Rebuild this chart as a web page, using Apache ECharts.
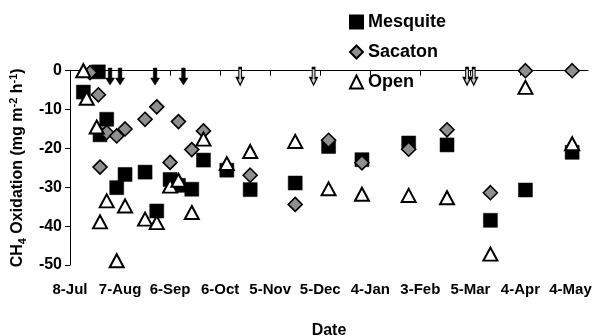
<!DOCTYPE html>
<html>
<head>
<meta charset="utf-8">
<script src="https://cdn.jsdelivr.net/npm/echarts@6/dist/echarts.min.js"></script>
<style>
  html, body { margin: 0; padding: 0; background: #fff; }
  #chart { width: 594px; height: 336px; }
</style>
</head>
<body>
<div id="chart"></div>
<script>
// ---- data ----
var startDate = '2002-07-08';
var xTickLabels = ['8-Jul', '7-Aug', '6-Sep', '6-Oct', '5-Nov', '5-Dec', '4-Jan', '3-Feb', '5-Mar', '4-Apr', '4-May'];
var yTickMin = -50, yTickMax = 0, yTickStep = 10;

var mesquiteDates = ['2002-07-16','2002-07-25','2002-07-26','2002-07-30','2002-08-05','2002-08-10','2002-08-22','2002-08-29','2002-09-06','2002-09-11','2002-09-19','2002-09-26','2002-10-10','2002-10-24','2002-11-20','2002-12-10','2002-12-30','2003-01-27','2003-02-19','2003-03-17','2003-04-07','2003-05-05'];
var mesquiteValues = [-5.5, -0.3, -16.5, -12.5, -30.1, -26.7, -26.1, -36.1, -28.0, -29.5, -30.5, -23.0, -25.6, -30.6, -28.9, -19.5, -22.9, -18.6, -19.1, -38.5, -30.7, -21.0];

var sacatonDates = ['2002-07-20','2002-07-25','2002-07-26','2002-07-30','2002-08-05','2002-08-10','2002-08-22','2002-08-29','2002-09-06','2002-09-11','2002-09-19','2002-09-26','2002-10-24','2002-11-20','2002-12-10','2002-12-30','2003-01-27','2003-02-19','2003-03-17','2003-04-07','2003-05-05'];
var sacatonValues = [-0.5, -6.2, -24.8, -15.9, -16.8, -15.0, -12.5, -9.3, -23.6, -13.1, -20.3, -15.5, -26.9, -34.4, -17.9, -23.7, -20.2, -15.2, -31.4, 0, 0];

var openDates = ['2002-07-16','2002-07-18','2002-07-24','2002-07-26','2002-07-30','2002-08-05','2002-08-10','2002-08-22','2002-08-29','2002-09-06','2002-09-11','2002-09-19','2002-09-26','2002-10-10','2002-10-24','2002-11-20','2002-12-10','2002-12-30','2003-01-27','2003-02-19','2003-03-17','2003-04-07','2003-05-05'];
var openValues = [0, -7.1, -14.5, -38.9, -33.5, -48.9, -34.8, -38.2, -39.1, -29.7, -28.2, -36.5, -17.6, -23.9, -20.8, -18.2, -30.4, -31.8, -32.1, -32.7, -47.2, -4.3, -18.8];

// rain-event arrows drawn along the top of the plot
var heavyRainDates = ['2002-08-01','2002-08-07','2002-08-28','2002-09-14'];
var lightRainDates = ['2002-10-18','2002-12-01','2003-03-03','2003-03-07'];
var arrowLevel = -1.5;

// ---- helpers ----
var DAY = 86400000;
var base = Date.parse(startDate + 'T00:00:00Z');
function dayOf(s) { return Math.round((Date.parse(s + 'T00:00:00Z') - base) / DAY); }
function pairs(dates, vals) { return dates.map(function (d, i) { return [dayOf(d), vals[i]]; }); }
function arrows(dates) { return dates.map(function (d) { return [dayOf(d), arrowLevel]; }); }
var xTickValues = xTickLabels.map(function (_, i) { return i * 30; });

var arrowPath = 'path://M3,0L7,0L7,10L10,10L5,17L0,10L3,10Z';
var font = 'Liberation Sans, Arial, sans-serif';

var chart = echarts.init(document.getElementById('chart'), null, { renderer: 'canvas' });
chart.setOption({
  animation: false,
  backgroundColor: '#ffffff',
  textStyle: { fontFamily: font, color: '#000' },
  grid: { left: 70, right: 6, top: 70.7, bottom: 71, containLabel: false, outerBoundsMode: 'none' },
  legend: {
    orient: 'vertical',
    left: 344,
    top: 8,
    itemWidth: 13,
    itemHeight: 13,
    itemGap: 12,
    data: ['Mesquite', 'Sacaton', 'Open'],
    textStyle: { fontFamily: font, fontSize: 18, fontWeight: 'bold', color: '#000', lineHeight: 18 }
  },
  xAxis: {
    type: 'value',
    min: 0,
    max: 310.5,
    name: 'Date',
    nameLocation: 'middle',
    nameGap: 58,
    nameTextStyle: { fontFamily: font, fontSize: 16, fontWeight: 'bold', color: '#000' },
    axisLine: { show: true, lineStyle: { color: '#000', width: 1 } },
    axisTick: { show: true, inside: false, length: 5, lineStyle: { color: '#000' }, customValues: xTickValues },
    axisLabel: {
      customValues: xTickValues,
      margin: 17,
      fontFamily: font, fontSize: 15, fontWeight: 'bold', color: '#000',
      formatter: function (v) { var i = Math.round(v / 30); return xTickLabels[i] || ''; }
    },
    splitLine: { show: false }
  },
  yAxis: {
    type: 'value',
    min: yTickMin,
    max: yTickMax,
    interval: yTickStep,
    name: '{t|CH}{sub|4}{t| Oxidation (mg m}{sup|-2}{t| h}{sup|-1}{t|)}',
    nameLocation: 'middle',
    nameGap: 41,
    nameTextStyle: {
      fontFamily: font, fontSize: 16, fontWeight: 'bold', color: '#000',
      rich: {
        t: { fontFamily: font, fontSize: 16, fontWeight: 'bold', color: '#000', lineHeight: 20 },
        sub: { fontFamily: font, fontSize: 11, fontWeight: 'bold', color: '#000', lineHeight: 11, verticalAlign: 'bottom' },
        sup: { fontFamily: font, fontSize: 11, fontWeight: 'bold', color: '#000', lineHeight: 11, verticalAlign: 'top' }
      }
    },
    axisLine: { show: true, lineStyle: { color: '#000', width: 1 } },
    axisTick: { show: true, inside: false, length: 5, lineStyle: { color: '#000' } },
    axisLabel: { margin: 8, fontFamily: font, fontSize: 16, fontWeight: 'bold', color: '#000' },
    splitLine: { show: false }
  },
  series: [
    {
      name: 'Mesquite', type: 'scatter', clip: false, z: 2,
      symbol: 'rect', symbolSize: 14,
      itemStyle: { color: '#000', borderColor: '#000', borderWidth: 0.5, opacity: 1 },
      data: pairs(mesquiteDates, mesquiteValues)
    },
    {
      name: 'Sacaton', type: 'scatter', clip: false, z: 3,
      symbol: 'diamond', symbolSize: 14,
      itemStyle: { color: '#8f8f8f', borderColor: '#000', borderWidth: 1.6, opacity: 1 },
      data: pairs(sacatonDates, sacatonValues)
    },
    {
      name: 'Open', type: 'scatter', clip: false, z: 4,
      symbol: 'triangle', symbolSize: [14, 13],
      itemStyle: { color: '#fff', borderColor: '#000', borderWidth: 2, opacity: 1 },
      data: pairs(openDates, openValues)
    },
    {
      name: 'heavy rain', type: 'scatter', clip: false, z: 5, silent: true,
      symbol: arrowPath, symbolSize: [9, 17],
      itemStyle: { color: '#000', borderColor: '#000', borderWidth: 0.5, opacity: 1 },
      data: arrows(heavyRainDates)
    },
    {
      name: 'light rain', type: 'scatter', clip: false, z: 5, silent: true,
      symbol: arrowPath, symbolSize: [7, 17],
      itemStyle: { color: '#d0d0d0', borderColor: '#000', borderWidth: 1.5, opacity: 1 },
      data: arrows(lightRainDates)
    }
  ]
});
</script>
</body>
</html>
